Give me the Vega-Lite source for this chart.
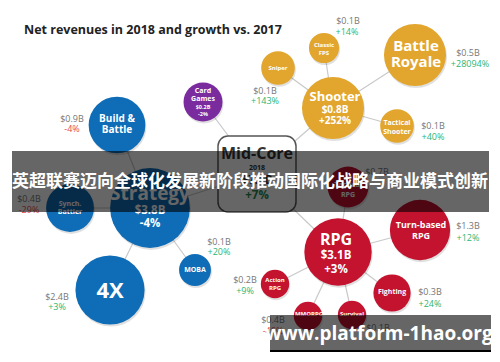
{
  "$schema": "https://vega.github.io/schema/vega-lite/v6.json",
  "width": 500,
  "height": 362,
  "autosize": {"type": "fit", "contains": "padding"},
  "padding": 0,
  "background": "white",
  "config": {"view": {"stroke": null}, "font": "Open Sans"},
  "resolve": {"scale": {"size": "independent", "color": "independent"}},
  "datasets": {
    "links": [
      {"x": 257, "y": 174, "x2": 203, "y2": 102},
      {"x": 257, "y": 174, "x2": 333, "y2": 108},
      {"x": 257, "y": 174, "x2": 338, "y2": 252},
      {"x": 257, "y": 174, "x2": 150, "y2": 208},
      {"x": 150, "y": 208, "x2": 117, "y2": 125},
      {"x": 150, "y": 208, "x2": 70, "y2": 208},
      {"x": 150, "y": 208, "x2": 110, "y2": 290},
      {"x": 150, "y": 208, "x2": 195, "y2": 270},
      {"x": 333, "y": 108, "x2": 278, "y2": 68},
      {"x": 333, "y": 108, "x2": 324, "y2": 48},
      {"x": 333, "y": 108, "x2": 415, "y2": 55},
      {"x": 333, "y": 108, "x2": 397, "y2": 126},
      {"x": 338, "y": 252, "x2": 420, "y2": 230},
      {"x": 338, "y": 252, "x2": 348, "y2": 187},
      {"x": 338, "y": 252, "x2": 275, "y2": 284},
      {"x": 338, "y": 252, "x2": 392, "y2": 293},
      {"x": 338, "y": 252, "x2": 308, "y2": 316},
      {"x": 338, "y": 252, "x2": 352, "y2": 315}
    ],
    "bubbles": [
      {"name": "Build & Battle", "g": "Strategy", "x": 117, "y": 125, "r": 32},
      {"name": "Strategy", "g": "Strategy", "x": 150, "y": 208, "r": 45},
      {"name": "Synch. Battler", "g": "Strategy", "x": 70, "y": 208, "r": 27},
      {"name": "4X", "g": "Strategy", "x": 110, "y": 290, "r": 39},
      {"name": "MOBA", "g": "Strategy", "x": 195, "y": 270, "r": 18},
      {"name": "Card Games", "g": "Card", "x": 203, "y": 102, "r": 22},
      {"name": "Shooter", "g": "Shooter", "x": 333, "y": 108, "r": 35},
      {"name": "Battle Royale", "g": "Shooter", "x": 415, "y": 55, "r": 35},
      {"name": "Classic FPS", "g": "Shooter", "x": 324, "y": 48, "r": 17},
      {"name": "Sniper", "g": "Shooter", "x": 278, "y": 68, "r": 19},
      {"name": "Tactical Shooter", "g": "Shooter", "x": 397, "y": 126, "r": 19},
      {"name": "RPG", "g": "RPG", "x": 338, "y": 252, "r": 38},
      {"name": "Turn-based RPG", "g": "RPG", "x": 420, "y": 230, "r": 34},
      {"name": "Tactical RPG", "g": "RPG", "x": 348, "y": 187, "r": 23},
      {"name": "Action RPG", "g": "RPG", "x": 275, "y": 284, "r": 16},
      {"name": "Fighting", "g": "RPG", "x": 392, "y": 293, "r": 21},
      {"name": "MMORPG", "g": "RPG", "x": 308, "y": 316, "r": 16},
      {"name": "Survival", "g": "RPG", "x": 352, "y": 315, "r": 16}
    ],
    "midcore": [
      {"x": 218, "x2": 296, "y": 136, "y2": 212}
    ],
    "inner": [
      {"t": "Build &", "x": 117, "y": 119, "s": "g", "k": "in"},
      {"t": "Battle", "x": 117, "y": 130, "s": "g", "k": "in"},
      {"t": "Card", "x": 203, "y": 91, "s": "i", "k": "in"},
      {"t": "Games", "x": 203, "y": 99, "s": "i", "k": "in"},
      {"t": "$0.2B", "x": 203, "y": 107, "s": "k", "k": "in"},
      {"t": "-2%", "x": 203, "y": 114, "s": "k", "k": "in"},
      {"t": "Synch.", "x": 70, "y": 204, "s": "i", "k": "in"},
      {"t": "Battler", "x": 70, "y": 212, "s": "i", "k": "in"},
      {"t": "Strategy", "x": 150, "y": 194, "s": "b", "k": "in"},
      {"t": "$3.8B", "x": 150, "y": 211, "s": "f", "k": "in"},
      {"t": "-4%", "x": 150, "y": 224, "s": "f", "k": "in"},
      {"t": "4X", "x": 110, "y": 291, "s": "a", "k": "in"},
      {"t": "MOBA", "x": 195, "y": 270, "s": "i", "k": "in"},
      {"t": "Shooter", "x": 335, "y": 97, "s": "e", "k": "in"},
      {"t": "$0.8B", "x": 335, "y": 110, "s": "g", "k": "in"},
      {"t": "+252%", "x": 335, "y": 121, "s": "g", "k": "in"},
      {"t": "Battle", "x": 416, "y": 46, "s": "d", "k": "in"},
      {"t": "Royale", "x": 416, "y": 62, "s": "d", "k": "in"},
      {"t": "Classic", "x": 324, "y": 45, "s": "j", "k": "in"},
      {"t": "FPS", "x": 324, "y": 53, "s": "j", "k": "in"},
      {"t": "Sniper", "x": 278, "y": 68, "s": "j", "k": "in"},
      {"t": "Tactical", "x": 397, "y": 123, "s": "i", "k": "in"},
      {"t": "Shooter", "x": 397, "y": 132, "s": "i", "k": "in"},
      {"t": "RPG", "x": 336, "y": 240, "s": "c", "k": "in"},
      {"t": "$3.1B", "x": 336, "y": 256, "s": "f", "k": "in"},
      {"t": "+3%", "x": 336, "y": 270, "s": "f", "k": "in"},
      {"t": "Turn-based", "x": 421, "y": 225, "s": "h", "k": "in"},
      {"t": "RPG", "x": 421, "y": 236, "s": "h", "k": "in"},
      {"t": "Tactical", "x": 348, "y": 185, "s": "i", "k": "in"},
      {"t": "RPG", "x": 348, "y": 195, "s": "i", "k": "in"},
      {"t": "Action", "x": 275, "y": 280, "s": "j", "k": "in"},
      {"t": "RPG", "x": 275, "y": 288, "s": "j", "k": "in"},
      {"t": "Fighting", "x": 392, "y": 292, "s": "i", "k": "in"},
      {"t": "MMORPG", "x": 309, "y": 314, "s": "j", "k": "in"},
      {"t": "Survival", "x": 352, "y": 314, "s": "j", "k": "in"},
      {"t": "Mid-Core", "x": 257, "y": 154, "s": "c", "k": "mid"},
      {"t": "2018", "x": 257, "y": 168, "s": "i", "k": "mid"},
      {"t": "$7.0B", "x": 257, "y": 181, "s": "f", "k": "mid"},
      {"t": "+7%", "x": 257, "y": 196, "s": "f", "k": "midup"}
    ],
    "side": [
      {"t": "$0.9B", "x": 72, "y": 119, "k": "value"},
      {"t": "-4%", "x": 72, "y": 129, "k": "down"},
      {"t": "$0.4B", "x": 29, "y": 199, "k": "value"},
      {"t": "-29%", "x": 29, "y": 210, "k": "down"},
      {"t": "$2.4B", "x": 57, "y": 297, "k": "value"},
      {"t": "+3%", "x": 57, "y": 307, "k": "up"},
      {"t": "$0.1B", "x": 219, "y": 242, "k": "value"},
      {"t": "+20%", "x": 219, "y": 252, "k": "up"},
      {"t": "$0.1B", "x": 265, "y": 91, "k": "value"},
      {"t": "+143%", "x": 265, "y": 101, "k": "up"},
      {"t": "$0.1B", "x": 348, "y": 21, "k": "value"},
      {"t": "+14%", "x": 347, "y": 32, "k": "up"},
      {"t": "$0.5B", "x": 468, "y": 53, "k": "value"},
      {"t": "+28094%", "x": 470, "y": 64, "k": "up"},
      {"t": "$0.1B", "x": 433, "y": 126, "k": "value"},
      {"t": "+40%", "x": 433, "y": 137, "k": "up"},
      {"t": "$0.7B", "x": 377, "y": 172, "k": "value"},
      {"t": "$1.3B", "x": 468, "y": 226, "k": "value"},
      {"t": "+12%", "x": 468, "y": 238, "k": "up"},
      {"t": "$0.2B", "x": 245, "y": 280, "k": "value"},
      {"t": "+9%", "x": 245, "y": 291, "k": "up"},
      {"t": "$0.3B", "x": 430, "y": 292, "k": "value"},
      {"t": "+24%", "x": 430, "y": 304, "k": "up"},
      {"t": "$0.4B", "x": 273, "y": 320, "k": "value"},
      {"t": "-46%", "x": 273, "y": 331, "k": "down"},
      {"t": "$0.1B", "x": 378, "y": 328, "k": "value"}
    ],
    "title": [
      {"t": "Net revenues in 2018 and growth vs. 2017", "x": 24, "y": 30}
    ],
    "banner": [
      {"x": 12, "x2": 489, "y": 151, "y2": 212, "t": "英超联赛迈向全球化发展新阶段推动国际化战略与商业模式创新", "tx": 250, "ty": 182}
    ],
    "mark": [
      {"x": 270, "x2": 491, "y": 315, "y2": 351, "t": "www.platform-1hao.org", "tx": 379, "ty": 334}
    ]
  },
  "layer": [
    {
      "data": {"name": "links"},
      "mark": {"type": "rule", "color": "#c9c9c9", "strokeWidth": 1.2},
      "encoding": {
        "x": {"field": "x", "type": "quantitative", "scale": {"domain": [0, 500], "nice": false, "zero": false}, "axis": null},
        "y": {"field": "y", "type": "quantitative", "scale": {"domain": [0, 362], "nice": false, "zero": false, "reverse": true}, "axis": null},
        "x2": {"field": "x2"},
        "y2": {"field": "y2"}
      }
    },
    {
      "data": {"name": "bubbles"},
      "mark": {"type": "circle", "opacity": 0.12, "color": "#000000", "xOffset": 1, "yOffset": 2},
      "encoding": {
        "x": {"field": "x", "type": "quantitative", "axis": null},
        "y": {"field": "y", "type": "quantitative", "axis": null},
        "size": {"field": "r", "type": "quantitative", "scale": {"type": "pow", "exponent": 2, "domain": [0, 50], "range": [0, 7854], "zero": true}, "legend": null}
      }
    },
    {
      "data": {"name": "bubbles"},
      "mark": {"type": "circle", "opacity": 1},
      "encoding": {
        "x": {"field": "x", "type": "quantitative", "axis": null},
        "y": {"field": "y", "type": "quantitative", "axis": null},
        "size": {"field": "r", "type": "quantitative", "scale": {"type": "pow", "exponent": 2, "domain": [0, 50], "range": [0, 7854], "zero": true}, "legend": null},
        "color": {"field": "g", "type": "nominal", "scale": {"domain": ["Strategy", "Card", "Shooter", "RPG"], "range": ["#0f6db7", "#7a2c9e", "#e2a62e", "#c3132f"]}, "legend": null}
      }
    },
    {
      "data": {"name": "midcore"},
      "mark": {"type": "rect", "fill": "white", "stroke": "#555555", "strokeWidth": 1.5, "cornerRadius": 10},
      "encoding": {
        "x": {"field": "x", "type": "quantitative", "axis": null},
        "x2": {"field": "x2"},
        "y": {"field": "y", "type": "quantitative", "axis": null},
        "y2": {"field": "y2"}
      }
    },
    {
      "data": {"name": "inner"},
      "mark": {"type": "text", "fontWeight": "bold", "align": "center", "baseline": "middle"},
      "encoding": {
        "x": {"field": "x", "type": "quantitative", "axis": null},
        "y": {"field": "y", "type": "quantitative", "axis": null},
        "text": {"field": "t"},
        "size": {"field": "s", "type": "nominal", "scale": {"type": "ordinal", "domain": ["a", "b", "c", "d", "e", "f", "g", "h", "i", "j", "k"], "range": [22, 19, 16, 15, 13, 11.5, 10, 9, 7, 6, 5.5]}, "legend": null},
        "color": {"field": "k", "type": "nominal", "scale": {"domain": ["in", "mid", "midup"], "range": ["#ffffff", "#333333", "#1e8a4c"]}, "legend": null}
      }
    },
    {
      "data": {"name": "side"},
      "mark": {"type": "text", "fontSize": 9, "align": "center", "baseline": "middle"},
      "encoding": {
        "x": {"field": "x", "type": "quantitative", "axis": null},
        "y": {"field": "y", "type": "quantitative", "axis": null},
        "text": {"field": "t"},
        "color": {"field": "k", "type": "nominal", "scale": {"domain": ["value", "up", "down"], "range": ["#777777", "#2bb673", "#e8474f"]}, "legend": null}
      }
    },
    {
      "data": {"name": "title"},
      "mark": {"type": "text", "fontSize": 12.5, "fontWeight": "bold", "align": "left", "baseline": "middle", "color": "#222222"},
      "encoding": {
        "x": {"field": "x", "type": "quantitative", "axis": null},
        "y": {"field": "y", "type": "quantitative", "axis": null},
        "text": {"field": "t"}
      }
    },
    {
      "data": {"name": "banner"},
      "mark": {"type": "rect", "fill": "#000000", "opacity": 0.6},
      "encoding": {
        "x": {"field": "x", "type": "quantitative", "axis": null},
        "x2": {"field": "x2"},
        "y": {"field": "y", "type": "quantitative", "axis": null},
        "y2": {"field": "y2"}
      }
    },
    {
      "data": {"name": "banner"},
      "mark": {"type": "text", "font": "Noto Sans CJK SC", "fontSize": 17, "fontWeight": "bold", "color": "white", "align": "center", "baseline": "middle"},
      "encoding": {
        "x": {"field": "tx", "type": "quantitative", "axis": null},
        "y": {"field": "ty", "type": "quantitative", "axis": null},
        "text": {"field": "t"}
      }
    },
    {
      "data": {"name": "mark"},
      "mark": {"type": "rect", "fill": "#000000", "opacity": 0.6},
      "encoding": {
        "x": {"field": "x", "type": "quantitative", "axis": null},
        "x2": {"field": "x2"},
        "y": {"field": "y", "type": "quantitative", "axis": null},
        "y2": {"field": "y2"}
      }
    },
    {
      "data": {"name": "mark"},
      "mark": {"type": "rule", "color": "#000000", "strokeWidth": 2},
      "encoding": {
        "x": {"field": "x", "type": "quantitative", "axis": null},
        "x2": {"field": "x2"},
        "y": {"field": "y2", "type": "quantitative", "axis": null}
      }
    },
    {
      "data": {"name": "mark"},
      "mark": {"type": "text", "font": "Open Sans", "fontSize": 19, "fontWeight": "bold", "color": "white", "align": "center", "baseline": "middle"},
      "encoding": {
        "x": {"field": "tx", "type": "quantitative", "axis": null},
        "y": {"field": "ty", "type": "quantitative", "axis": null},
        "text": {"field": "t"}
      }
    }
  ]
}
